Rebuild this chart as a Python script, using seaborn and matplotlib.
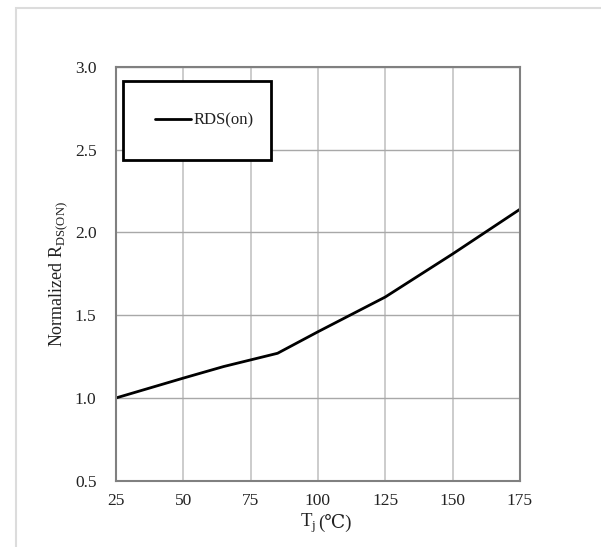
import seaborn as sns
import matplotlib.pyplot as plt
from matplotlib.patches import Rectangle

# junction temperature (C) vs normalized RDS(on)
tj = [25, 50, 65, 85, 100, 125, 150, 175]
rds_norm = [1.00, 1.12, 1.19, 1.27, 1.40, 1.61, 1.87, 2.14]
x_ticks = [25, 50, 75, 100, 125, 150, 175]
y_ticks = [0.5, 1.0, 1.5, 2.0, 2.5, 3.0]

sns.set_theme(style="white")
fonts = ['Liberation Serif', 'DejaVu Serif', 'Noto Sans CJK SC']
plt.rcParams['font.family'] = fonts
plt.rcParams['mathtext.fontset'] = 'custom'
plt.rcParams['mathtext.rm'] = 'Liberation Serif'

fig = plt.figure(figsize=(6.01, 5.47), dpi=100)
ax = fig.add_axes([0.193, 0.1212, 0.672, 0.7563])

# light outer frame
fig.patches.append(Rectangle((16 / 601, -0.1), 2, 1.1 - 8 / 547, transform=fig.transFigure,
                             fill=False, edgecolor='#dcdcdc', linewidth=1.5))

sns.lineplot(x=tj, y=rds_norm, color='black', linewidth=2, label='RDS(on)', ax=ax)

ax.set_xlim(25, 175)
ax.set_ylim(0.5, 3.0)
ax.set_xticks(x_ticks)
ax.set_yticks(y_ticks)
ax.set_yticklabels([f'{v:.1f}' for v in y_ticks])
ax.tick_params(axis='both', length=0, labelsize=12.5, colors='#222222')
ax.tick_params(axis='y', pad=14)
ax.tick_params(axis='x', pad=9)

ax.grid(False)
ax.xaxis.grid(True, color='#c4c4c4', linewidth=1.2)
ax.yaxis.grid(True, color='#a8a8a8', linewidth=1.0)
for s in ax.spines.values():
    s.set_color('#808080')
    s.set_linewidth(1.5)

# x label in two pieces: mathtext has no glyph for the degree-Celsius sign
tlab = ax.text(0.455, -0.112, 'T$_\\mathregular{j}$', transform=ax.transAxes,
               ha='left', va='baseline', fontsize=13.5, color='#222222')
ax.annotate('(\u2103)', xy=(1, 0), xycoords=tlab, xytext=(1.5, 2.5), textcoords='offset points',
            ha='left', va='bottom', fontsize=13.5, color='#222222', family=fonts)
ax.set_ylabel('Normalized R$_\\mathregular{DS(ON)}$', fontsize=13, color='#222222', labelpad=4)

leg = ax.legend(loc='upper left', bbox_to_anchor=(0.017, 0.966, 0.367, 0.0), mode='expand',
                fontsize=12, frameon=True, fancybox=False, framealpha=1,
                borderpad=1.9, handlelength=2.2, handletextpad=0.15, borderaxespad=0)
leg.get_frame().set_edgecolor('black')
leg.get_frame().set_linewidth(2)
for t in leg.get_texts():
    t.set_color('#222222')

fig.savefig('out.png', dpi=100)
